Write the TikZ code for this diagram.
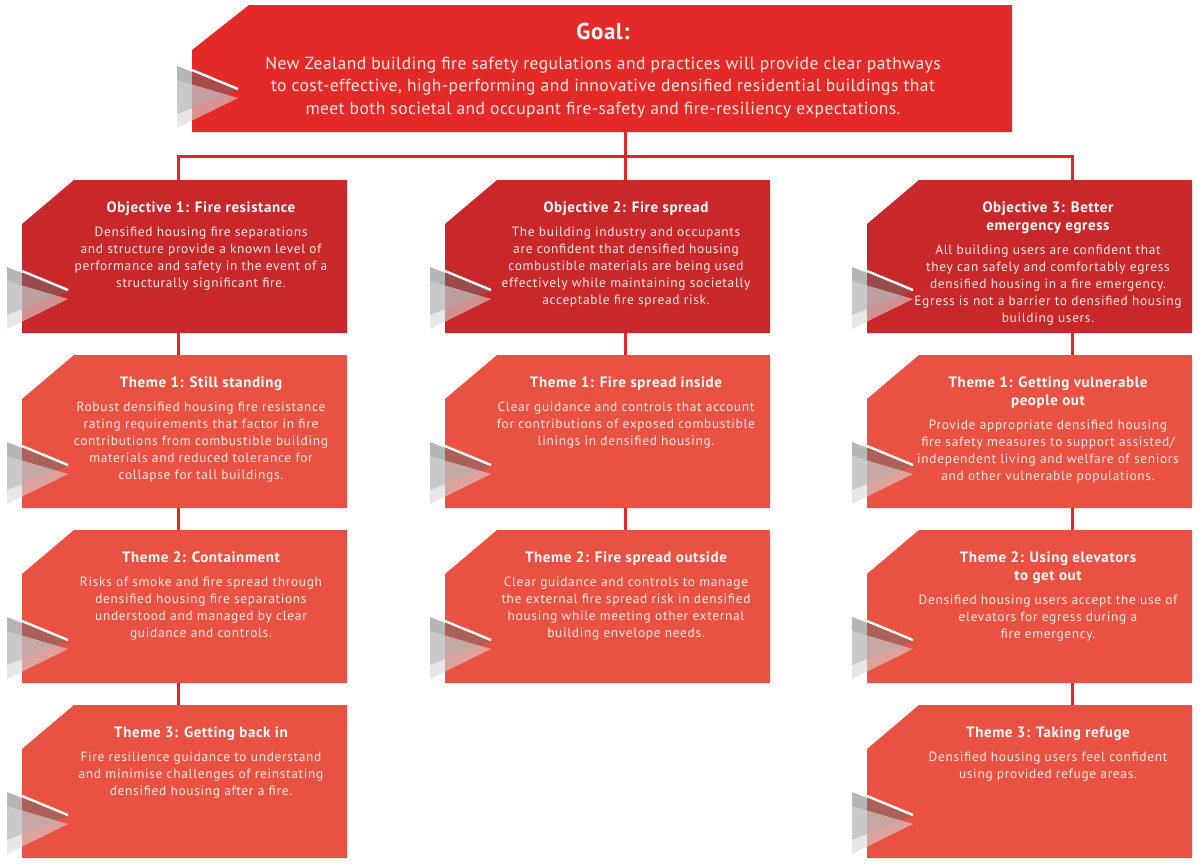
\documentclass[tikz,border=0pt]{standalone}
\usepackage{fontspec}
\setmainfont{PT Sans}
\newfontfamily\titlefam[LetterSpace=4]{PT Sans}
\newfontfamily\bodyfam[LetterSpace=5]{PT Sans}
\newfontfamily\goalfam[LetterSpace=2.5]{PT Sans}
\definecolor{goalred}{RGB}{228,42,40}
\definecolor{objred}{RGB}{200,40,42}
\definecolor{themered}{RGB}{233,82,66}
\definecolor{linered}{RGB}{226,38,40}
\definecolor{bodytxt}{RGB}{253,232,228}
\newcommand\titlef{\titlefam\fontsize{15}{18}\selectfont\bfseries}
\newcommand\bodyf{\bodyfam\fontsize{13.4}{17}\selectfont\mdseries}
\tikzset{
  boxarea/.style={minimum width=325pt, minimum height=153pt, inner sep=0pt, outer sep=0pt, anchor=north west},
  link/.style={draw=linered, line width=3pt},
  txt/.style={anchor=north, inner sep=0pt, text=white},
  darktri/.style={fill={rgb,255:red,110;green,110;blue,110}, fill opacity=0.5},
  lighttri/.style={fill={rgb,255:red,215;green,215;blue,215}, fill opacity=0.6},
  whiteedge/.style={draw=white, line width=2.4pt},
}
\newcommand\deco[1]{%
  \fill[darktri] ([shift={(-15pt,66pt)}]#1.south west) -- ([shift={(46pt,42pt)}]#1.south west) -- ([shift={(-15pt,18pt)}]#1.south west) -- cycle;
  \fill[lighttri] ([shift={(-15pt,52pt)}]#1.south west) -- ([shift={(46pt,34pt)}]#1.south west) -- ([shift={(-15pt,4pt)}]#1.south west) -- cycle;
  \draw[whiteedge] ([shift={(0pt,62pt)}]#1.south west) -- ([shift={(46pt,43pt)}]#1.south west);
}
\newcommand\fsbox[4]{%
  \node[boxarea] (#1) at (#2,#3) {};
  \fill[#4] ([yshift=-44pt]#1.north west) -- ([xshift=52pt]#1.north west) -- (#1.north east) -- (#1.south east) -- (#1.south west) -- cycle;
  \deco{#1}
}
\newcommand\fstext[5]{%
  \node[txt] (#1) at (#2,#3) {\parbox{420pt}{\centering\titlef\strut #4\par\vspace{7pt}\bodyf\leavevmode\color{bodytxt}#5}};
}
\begin{document}
\begin{tikzpicture}[x=1pt,y=-1pt]
\useasboundingbox (0,0) rectangle (1200,863);
\fill[white] (0,0) rectangle (1200,863);

% goal
\node[boxarea, minimum width=820pt, minimum height=127pt] (goal) at (192,5) {};
\fill[goalred] ([yshift=-45pt]goal.north west) -- ([xshift=57pt]goal.north west) -- (goal.north east) -- (goal.south east) -- (goal.south west) -- cycle;
\deco{goal}
\node[txt] (goaltxt) at (603,19.6) {\parbox{900pt}{\centering\goalfam\fontsize{23}{27.5}\selectfont\bfseries\strut Goal:\par\vspace{7.5pt}\fontsize{17.5}{22.5}\selectfont\mdseries\leavevmode\color{bodytxt}New Zealand building fire safety regulations and practices will provide clear pathways\\ to cost-effective, high-performing and innovative densified residential buildings that\\ meet both societal and occupant fire-safety and fire-resiliency expectations.}};

% boxes
\fsbox{o1}{22}{180}{objred}
\fsbox{o2}{445}{180}{objred}
\fsbox{o3}{867}{180}{objred}
\fsbox{a1}{22}{355}{themered}
\fsbox{a2}{22}{530}{themered}
\fsbox{a3}{22}{705}{themered}
\fsbox{b1}{445}{355}{themered}
\fsbox{b2}{445}{530}{themered}
\fsbox{c1}{867}{355}{themered}
\fsbox{c2}{867}{530}{themered}
\fsbox{c3}{867}{705}{themered}

% connectors
\coordinate (k1) at (178,156);
\coordinate (k2) at (625,156);
\coordinate (k3) at (1072,156);
\draw[link] (goal.south -| k2) -- (k2);
\draw[link] ([xshift=-1.5pt]k1) -- ([xshift=1.5pt]k3);
\draw[link] (k1) -- (k1 |- o1.north);
\draw[link] (k2) -- (k2 |- o2.north);
\draw[link] (k3) -- (k3 |- o3.north);
\draw[link] (k1 |- o1.south) -- (k1 |- a1.north);
\draw[link] (k1 |- a1.south) -- (k1 |- a2.north);
\draw[link] (k1 |- a2.south) -- (k1 |- a3.north);
\draw[link] (k2 |- o2.south) -- (k2 |- b1.north);
\draw[link] (k2 |- b1.south) -- (k2 |- b2.north);
\draw[link] (k3 |- o3.south) -- (k3 |- c1.north);
\draw[link] (k3 |- c1.south) -- (k3 |- c2.north);
\draw[link] (k3 |- c2.south) -- (k3 |- c3.north);

% texts
\fstext{o1t}{201}{199.4}{Objective 1: Fire resistance}{Densified housing fire separations\\ and structure provide a known level of\\ performance and safety in the event of a\\ structurally significant fire.}
\fstext{o2t}{626}{199.4}{Objective 2: Fire spread}{The building industry and occupants\\ are confident that densified housing\\ combustible materials are being used\\ effectively while maintaining societally\\ acceptable fire spread risk.}
\fstext{o3t}{1048}{199.4}{Objective 3: Better\\ emergency egress}{All building users are confident that\\ they can safely and comfortably egress\\ densified housing in a fire emergency.\\ Egress is not a barrier to densified housing\\ building users.}
\fstext{a1t}{201}{374.4}{Theme 1: Still standing}{Robust densified housing fire resistance\\ rating requirements that factor in fire\\ contributions from combustible building\\ materials and reduced tolerance for\\ collapse for tall buildings.}
\fstext{a2t}{201}{549.4}{Theme 2: Containment}{Risks of smoke and fire spread through\\ densified housing fire separations\\ understood and managed by clear\\ guidance and controls.}
\fstext{a3t}{201}{724.4}{Theme 3: Getting back in}{Fire resilience guidance to understand\\ and minimise challenges of reinstating\\ densified housing after a fire.}
\fstext{b1t}{626}{374.4}{Theme 1: Fire spread inside}{Clear guidance and controls that account\\ for contributions of exposed combustible\\ linings in densified housing.}
\fstext{b2t}{626}{549.4}{Theme 2: Fire spread outside}{Clear guidance and controls to manage\\ the external fire spread risk in densified\\ housing while meeting other external\\ building envelope needs.}
\fstext{c1t}{1048}{374.4}{Theme 1: Getting vulnerable\\ people out}{Provide appropriate densified housing\\ fire safety measures to support assisted/\\ independent living and welfare of seniors\\ and other vulnerable populations.}
\fstext{c2t}{1048}{549.4}{Theme 2: Using elevators\\ to get out}{Densified housing users accept the use of\\ elevators for egress during a\\ fire emergency.}
\fstext{c3t}{1048}{724.4}{Theme 3: Taking refuge}{Densified housing users feel confident\\ using provided refuge areas.}
\end{tikzpicture}
\end{document}
